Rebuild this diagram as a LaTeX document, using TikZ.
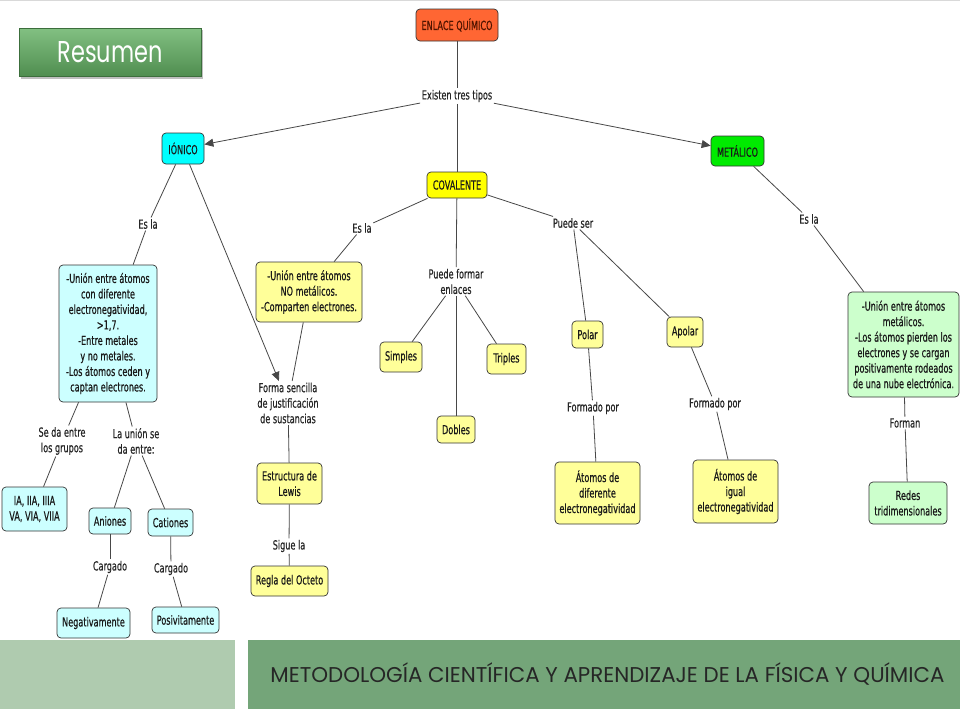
\documentclass[tikz,border=0pt]{standalone}
\usepackage{fontspec}
\usetikzlibrary{arrows.meta}
\newfontfamily\cmfont{DejaVu Sans}[FakeStretch=0.65,FakeBold=0.5]
\newfontfamily\titlefont{Poppins}
\definecolor{enlacec}{RGB}{255,102,51}
\definecolor{enlacetxt}{RGB}{80,20,0}
\definecolor{ionc}{RGB}{0,255,255}
\definecolor{metc}{RGB}{0,235,0}
\definecolor{covc}{RGB}{255,255,0}
\definecolor{lcyan}{RGB}{204,255,255}
\definecolor{lyellow}{RGB}{255,255,153}
\definecolor{lgreen}{RGB}{204,255,204}
\definecolor{footlight}{RGB}{175,203,175}
\definecolor{footdark}{RGB}{116,165,121}
\definecolor{btntop}{RGB}{130,192,130}
\definecolor{btnbot}{RGB}{80,142,80}
\definecolor{btnedge}{RGB}{60,110,60}
\tikzset{
  nodefont/.style={font=\cmfont\fontsize{12.5}{15.5}\selectfont},
  concept/.style={draw=black!80, line width=0.7pt, rounded corners=4pt, align=center,
    inner sep=0pt, nodefont, text=black!90},
  lbl/.style={inner sep=1.5pt, align=center, nodefont, text=black!85},
  link/.style={draw=black!72, line width=0.8pt},
  arr/.style={link, -{Triangle[length=9pt,width=8pt]}}
}
\begin{document}
\begin{tikzpicture}[x=1pt,y=-1pt]
\useasboundingbox (0,0) rectangle (960,720);
\fill[white] (0,0) rectangle (960,720);
\draw[black!15, line width=1.2pt] (0,0.8) -- (960,0.8);

% Resumen button
\fill[black!25] (21,30) rectangle (203,79);
\shade[top color=btntop, bottom color=btnbot, draw=btnedge, line width=0.6pt] (19,28) rectangle (201,76);
\node[text=white, inner sep=0pt] (resumen) at (110,52.5) {\resizebox{105pt}{21pt}{\titlefont\fontsize{24}{24}\selectfont Resumen}};

% footer
\fill[footlight] (0,640) rectangle (235,709);
\fill[footdark] (248,640) rectangle (960,709);
\node[text=black!85, inner sep=0pt] (footer) at (607.5,674) {\resizebox{674pt}{!}{\titlefont\fontsize{20}{20}\selectfont METODOLOGÍA CIENTÍFICA Y APRENDIZAJE DE LA FÍSICA Y QUÍMICA}};

% concepts
\node[concept, fill=enlacec, text=enlacetxt, minimum width=82pt, minimum height=32pt] (enlace) at (457,25) {ENLACE QUÍMICO};
\node[concept, fill=ionc, minimum width=42pt, minimum height=31pt] (ionico) at (183,148.5) {IÓNICO};
\node[concept, fill=metc, minimum width=53pt, minimum height=30pt] (metalico) at (737.5,151) {METÁLICO};
\node[concept, fill=covc, minimum width=60pt, minimum height=26pt] (covalente) at (457,185) {COVALENTE};

\node[concept, fill=lcyan, minimum width=98pt, minimum height=137pt] (ionbox) at (108,333.5)
  {-Unión entre átomos\\con diferente\\electronegatividad,\\>1,7.\\-Entre metales\\y no metales.\\-Los átomos ceden y\\captan electrones.};
\node[concept, fill=lyellow, minimum width=106pt, minimum height=60pt] (covbox) at (309,292)
  {-Unión entre átomos\\NO metálicos.\\-Comparten electrones.};
\node[concept, fill=lgreen, minimum width=111pt, minimum height=105pt] (metbox) at (903.5,344.5)
  {-Unión entre átomos\\metálicos.\\-Los átomos pierden los\\electrones y se cargan\\positivamente rodeados\\de una nube electrónica.};

\node[concept, fill=lcyan, minimum width=65pt, minimum height=44pt] (grupos) at (34.5,509) {IA, IIA, IIIA\\VA, VIA, VIIA};
\node[concept, fill=lcyan, minimum width=42pt, minimum height=26pt] (aniones) at (110,521) {Aniones};
\node[concept, fill=lcyan, minimum width=45pt, minimum height=27pt] (cationes) at (170.5,522.5) {Cationes};
\node[concept, fill=lcyan, minimum width=73pt, minimum height=30pt] (negativ) at (93.5,623) {Negativamente};
\node[concept, fill=lcyan, minimum width=67pt, minimum height=26pt] (posit) at (185.5,620) {Posivitamente};

\node[concept, fill=lyellow, minimum width=65pt, minimum height=41pt] (lewis) at (289.5,483.5) {Estructura de\\Lewis};
\node[concept, fill=lyellow, minimum width=77pt, minimum height=30pt] (octeto) at (289.5,581) {Regla del Octeto};
\node[concept, fill=lyellow, minimum width=42pt, minimum height=30pt] (simples) at (401,357) {Simples};
\node[concept, fill=lyellow, minimum width=38pt, minimum height=27pt] (dobles) at (456,429.5) {Dobles};
\node[concept, fill=lyellow, minimum width=39pt, minimum height=30pt] (triples) at (506.5,359) {Triples};
\node[concept, fill=lyellow, minimum width=31pt, minimum height=27pt] (polar) at (587.5,334.5) {Polar};
\node[concept, fill=lyellow, minimum width=36pt, minimum height=30pt] (apolar) at (685,332) {Apolar};
\node[concept, fill=lyellow, minimum width=85pt, minimum height=62pt] (difer) at (597.5,493) {Átomos de\\diferente\\electronegatividad};
\node[concept, fill=lyellow, minimum width=85pt, minimum height=63pt] (igual) at (735.5,491.5) {Átomos de\\igual\\electronegatividad};
\node[concept, fill=lgreen, minimum width=78pt, minimum height=42pt] (redes) at (908,503) {Redes\\tridimensionales};

% linking phrases
\node[lbl] (existen) at (457,96) {Existen tres tipos};
\node[lbl] (esla1) at (148,224) {Es la};
\node[lbl] (forma) at (288,403) {Forma sencilla\\de justificación\\de sustancias};
\node[lbl] (sigue) at (289,546) {Sigue la};
\node[lbl] (seda) at (62,441) {Se da entre\\los grupos};
\node[lbl] (launion) at (136,441) {La unión se\\da entre:};
\node[lbl] (cargado1) at (110,567) {Cargado};
\node[lbl] (cargado2) at (171,569) {Cargado};
\node[lbl] (esla2) at (362,228) {Es la};
\node[lbl] (puedeformar) at (456,281.5) {Puede formar\\enlaces};
\node[lbl] (puedeser) at (573,223) {Puede ser};
\node[lbl] (formado1) at (593,408) {Formado por};
\node[lbl] (formado2) at (715,404) {Formado por};
\node[lbl] (esla3) at (809,219) {Es la};
\node[lbl] (forman) at (905,423) {Forman};

% connectors
\draw[link] (enlace) -- (existen);
\draw[link] (existen) -- (covalente);
\draw[arr] (existen) -- (ionico);
\draw[arr] (existen) -- (metalico);

\draw[link] (ionico) -- (esla1);
\draw[link] (esla1) -- (ionbox);
\draw[arr] (ionico) -- (forma);
\draw[link] (covbox) -- (forma);
\draw[link] (forma) -- (lewis);
\draw[link] (lewis) -- (sigue);
\draw[link] (sigue) -- (octeto);

\draw[link] (ionbox) -- (seda);
\draw[link] (seda) -- (grupos);
\draw[link] (ionbox) -- (launion);
\draw[link] (launion) -- (aniones);
\draw[link] (launion) -- (cationes);
\draw[link] (aniones) -- (cargado1);
\draw[link] (cargado1) -- (negativ);
\draw[link] (cationes) -- (cargado2);
\draw[link] (cargado2) -- (posit);

\draw[link] (covalente) -- (esla2);
\draw[link] (esla2) -- (covbox);
\draw[link] (covalente) -- (puedeformar);
\draw[link] (puedeformar) -- (simples);
\draw[link] (puedeformar) -- (dobles);
\draw[link] (puedeformar) -- (triples);
\draw[link] (covalente) -- (puedeser);
\draw[link] (puedeser) -- (polar);
\draw[link] (puedeser) -- (apolar);
\draw[link] (polar) -- (formado1);
\draw[link] (formado1) -- (difer);
\draw[link] (apolar) -- (formado2);
\draw[link] (formado2) -- (igual);

\draw[link] (metalico) -- (esla3);
\draw[link] (esla3) -- (metbox);
\draw[link] (metbox) -- (forman);
\draw[link] (forman) -- (redes);
\end{tikzpicture}
\end{document}
